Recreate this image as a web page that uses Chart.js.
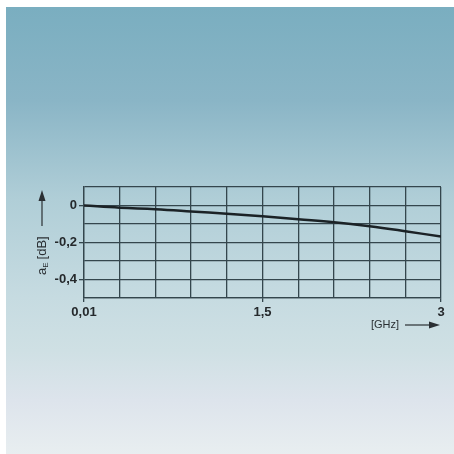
<!DOCTYPE html>
<html>
<head>
<meta charset="utf-8">
<script src="https://cdn.jsdelivr.net/npm/chart.js@4.4.1/dist/chart.umd.min.js"></script>
<style>
  html, body { margin: 0; padding: 0; background: #fff; }
  #wrap { width: 454px; height: 454px; }
</style>
</head>
<body>
<div id="wrap"><canvas id="daempfung" width="454" height="454"></canvas></div>
<script>
// Frequenz (GHz) und Dämpfung a_E (dB)
const frequenz = [0.01, 0.309, 0.608, 0.907, 1.206, 1.505, 1.804, 2.103, 2.402, 2.701, 3.0];
const daempfung = [0, -0.012, -0.02, -0.032, -0.045, -0.058, -0.074, -0.09, -0.112, -0.139, -0.168];

// Gitterlinien der Achsen und ihre Beschriftung
const xGitter = [0.01, 0.309, 0.608, 0.907, 1.206, 1.505, 1.804, 2.103, 2.402, 2.701, 3.0];
const xBeschriftung = ['0,01', '', '', '', '', '1,5', '', '', '', '', '3'];
const yGitter = [0.1, 0, -0.1, -0.2, -0.3, -0.4, -0.5];
const yBeschriftung = ['', '0', '', '-0,2', '', '-0,4', ''];

const gitterFarbe = '#34464d';
const schrift = { family: '"Liberation Sans", Arial, sans-serif', size: 13, weight: 'bold' };

// Hintergrund-Verlauf und Pfeile/Achsentitel
const rahmenPlugin = {
    id: 'rahmen',
    beforeDraw(chart) {
        const ctx = chart.ctx;
        const g = ctx.createLinearGradient(0, 7, 0, 454);
        g.addColorStop(0, 'rgb(122,174,192)');
        g.addColorStop(0.21, 'rgb(138,181,198)');
        g.addColorStop(0.43, 'rgb(176,206,215)');
        g.addColorStop(0.65, 'rgb(198,219,225)');
        g.addColorStop(0.77, 'rgb(207,224,228)');
        g.addColorStop(0.88, 'rgb(221,228,236)');
        g.addColorStop(1, 'rgb(232,238,240)');
        ctx.save();
        ctx.fillStyle = '#ffffff';
        ctx.fillRect(0, 0, 454, 454);
        ctx.fillStyle = g;
        ctx.fillRect(6, 7, 448, 447);
        ctx.restore();
    },
    afterDraw(chart) {
        const ctx = chart.ctx;
        ctx.save();
        ctx.fillStyle = '#2a2f33';
        ctx.strokeStyle = '#2a2f33';
        ctx.lineWidth = 1.2;

        // x-Achsentitel [GHz] mit Pfeil
        ctx.font = '11px "Liberation Sans", Arial, sans-serif';
        ctx.textBaseline = 'middle';
        ctx.textAlign = 'left';
        ctx.fillText('[GHz]', 371, 325);
        ctx.beginPath();
        ctx.moveTo(405, 325);
        ctx.lineTo(432, 325);
        ctx.stroke();
        ctx.beginPath();
        ctx.moveTo(440, 325);
        ctx.lineTo(429, 321.5);
        ctx.lineTo(429, 328.5);
        ctx.closePath();
        ctx.fill();

        // y-Achsentitel a_E [dB] mit Pfeil
        ctx.translate(42, 275);
        ctx.rotate(-Math.PI / 2);
        ctx.textAlign = 'left';
        ctx.font = '13px "Liberation Sans", Arial, sans-serif';
        let x = 0;
        ctx.fillText('a', x, 0);
        x += ctx.measureText('a').width;
        ctx.font = '8px "Liberation Sans", Arial, sans-serif';
        ctx.fillText('E', x, 4);
        x += ctx.measureText('E').width + 3;
        ctx.font = '13px "Liberation Sans", Arial, sans-serif';
        ctx.fillText('[dB]', x, 0);
        ctx.beginPath();
        ctx.moveTo(49, 0);
        ctx.lineTo(76, 0);
        ctx.stroke();
        ctx.beginPath();
        ctx.moveTo(85, 0);
        ctx.lineTo(74, -3.5);
        ctx.lineTo(74, 3.5);
        ctx.closePath();
        ctx.fill();
        ctx.restore();
    }
};

new Chart(document.getElementById('daempfung').getContext('2d'), {
    type: 'line',
    data: {
        datasets: [{
            data: frequenz.map((f, i) => ({ x: f, y: daempfung[i] })),
            borderColor: '#1b2226',
            borderWidth: 2.5,
            pointRadius: 0,
            tension: 0.4,
            fill: false
        }]
    },
    options: {
        responsive: false,
        animation: false,
        layout: { padding: { left: 0, right: 13, top: 187, bottom: 126 } },
        plugins: {
            legend: { display: false },
            tooltip: { enabled: false }
        },
        scales: {
            x: {
                type: 'linear',
                min: 0.01,
                max: 3,
                afterBuildTicks: (scale) => {
                    scale.ticks = xGitter.map(v => ({ value: v }));
                },
                afterFit: (scale) => { scale.height = 30; },
                border: { color: gitterFarbe, width: 1.3 },
                grid: {
                    color: gitterFarbe,
                    lineWidth: 1.3,
                    tickLength: 4,
                    tickColor: (c) => (xBeschriftung[c.index] ? gitterFarbe : 'rgba(0,0,0,0)')
                },
                ticks: {
                    color: '#25292c',
                    font: schrift,
                    padding: 3,
                    maxRotation: 0,
                    autoSkip: false,
                    callback: (v, i) => xBeschriftung[i]
                }
            },
            y: {
                min: -0.5,
                max: 0.1,
                afterBuildTicks: (scale) => {
                    scale.ticks = yGitter.map(v => ({ value: v }));
                },
                afterFit: (scale) => { scale.width = 84; },
                border: { color: gitterFarbe, width: 1.3 },
                grid: {
                    color: gitterFarbe,
                    lineWidth: 1.3,
                    tickLength: 5,
                    tickColor: (c) => (yBeschriftung[c.index] ? gitterFarbe : 'rgba(0,0,0,0)')
                },
                ticks: {
                    color: '#25292c',
                    font: schrift,
                    padding: 2,
                    autoSkip: false,
                    callback: (v, i) => yBeschriftung[i]
                }
            }
        }
    },
    plugins: [rahmenPlugin]
});
</script>
</body>
</html>
